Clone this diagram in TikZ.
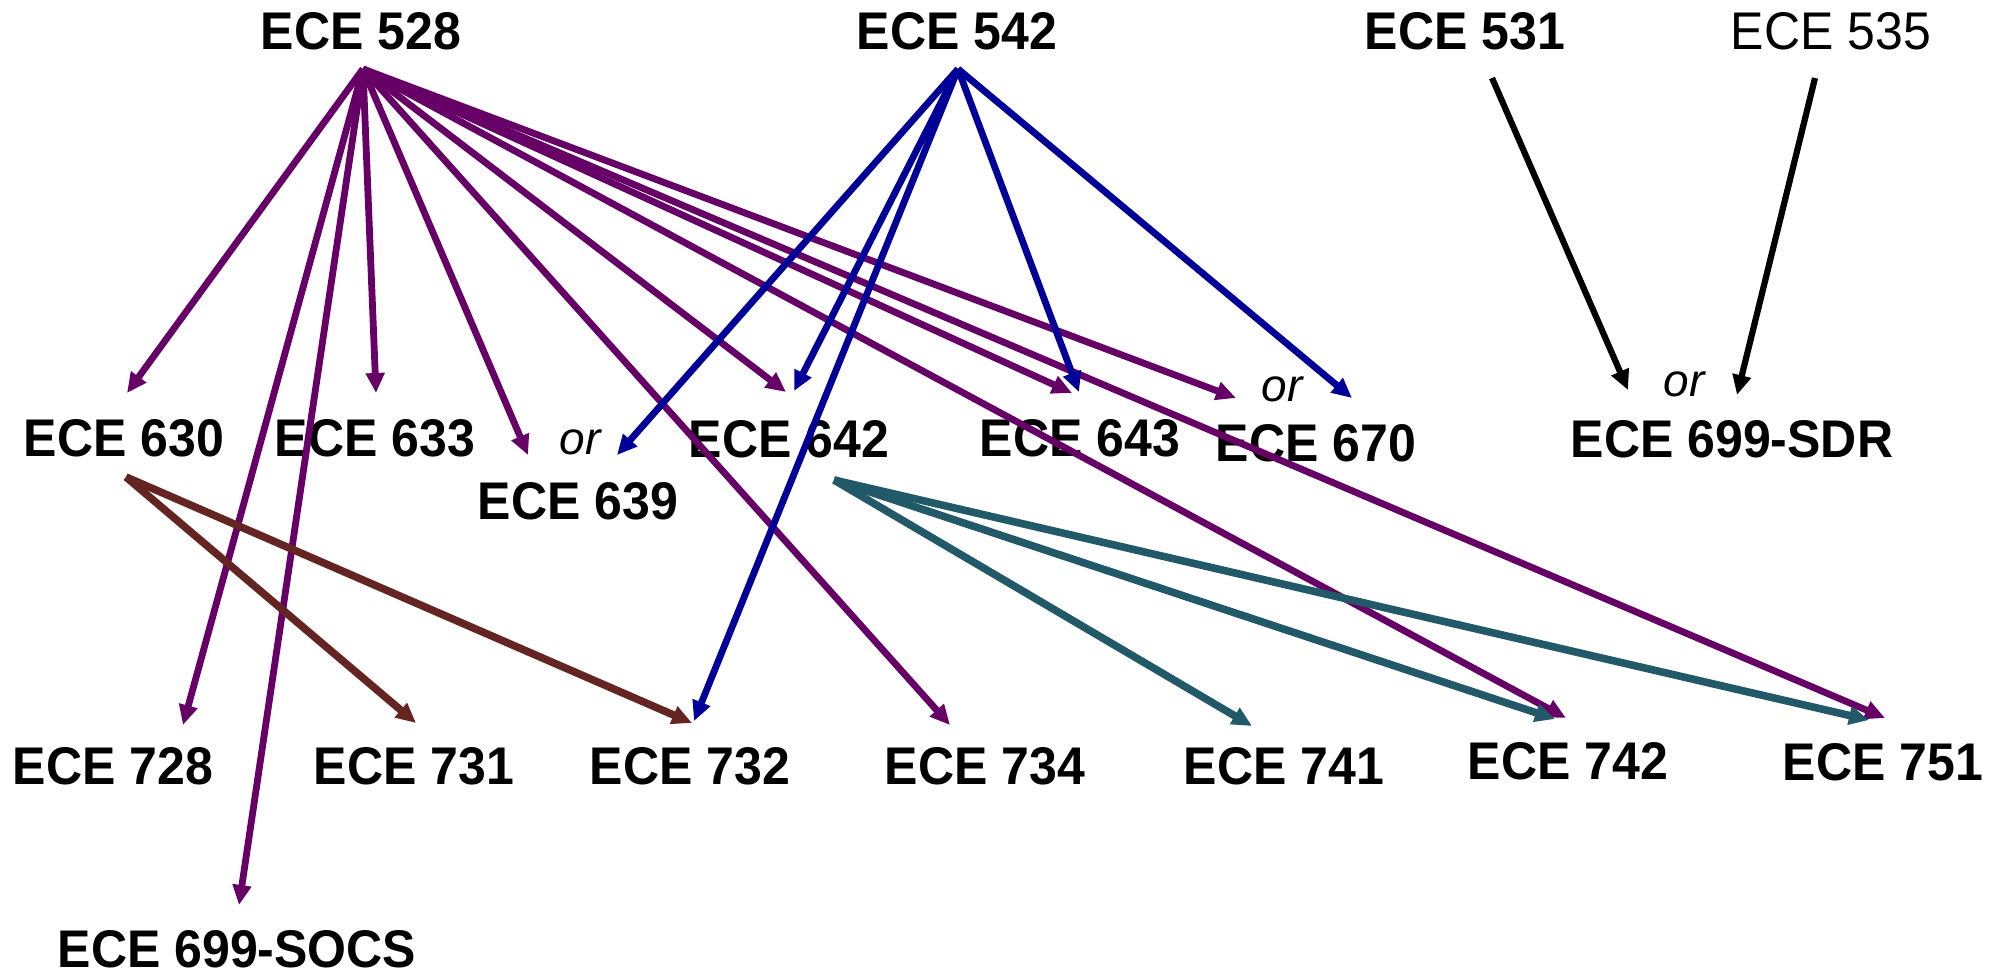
\documentclass[tikz,border=0pt]{standalone}
\usepackage{fontspec}
\setmainfont{Liberation Sans}
\usetikzlibrary{arrows.meta}
\definecolor{cpurple}{RGB}{102,0,102}
\definecolor{cblue}{RGB}{0,0,153}
\definecolor{cbrown}{RGB}{99,36,34}
\definecolor{cteal}{RGB}{33,89,104}
\tikzset{
  course/.style={inner sep=0pt, yscale=1.06, transform shape, font=\fontsize{50}{60}\selectfont\bfseries},
  plaincourse/.style={inner sep=0pt, yscale=1.06, transform shape, font=\fontsize{50}{60}\selectfont},
  altword/.style={inner sep=0pt, font=\fontsize{46}{55}\selectfont\itshape},
  link/.style={line width=6.8pt, -{Triangle[length=20pt,width=18pt]}},
  p528/.style={link, cpurple},
  p542/.style={link, cblue},
  p630/.style={link, cbrown, line width=7.6pt},
  p642/.style={link, cteal, line width=7.6pt},
  pblack/.style={link, black, line width=6.2pt},
}
\begin{document}
\begin{tikzpicture}[x=1pt, y=-1pt]
\useasboundingbox[fill=white] (0,0) rectangle (2009,975);

% course labels
\node[course] (n528) at (361,31) {ECE 528};
\node[course] (n542) at (957,31) {ECE 542};
\node[course] (n531) at (1465,31) {ECE 531};
\node[plaincourse] (n535) at (1831,31) {ECE 535};

\node[course] (n630) at (124,438) {ECE 630};
\node[course] (n633) at (375,438) {ECE 633};
\node[altword] (or639) at (580,442) {or};
\node[course] (n639) at (578,501) {ECE 639};
\node[course] (n642) at (789,439) {ECE 642};
\node[course] (n643) at (1080,438) {ECE 643};
\node[altword] (or670) at (1282,389) {or};
\node[course] (n670) at (1316,443) {ECE 670};
\node[altword] (orsdr) at (1684,384) {or};
\node[course] (nsdr) at (1732,439) {ECE 699-SDR};

\node[course] (n728) at (113,766) {ECE 728};
\node[course] (n731) at (414,766) {ECE 731};
\node[course] (n732) at (690,766) {ECE 732};
\node[course] (n734) at (985,766) {ECE 734};
\node[course] (n741) at (1284,766) {ECE 741};
\node[course] (n742) at (1568,761) {ECE 742};
\node[course] (n751) at (1883,762) {ECE 751};
\node[course] (nsocs) at (237,949) {ECE 699-SOCS};

% arrow start points below the sources
\coordinate (s528) at (363,69);
\coordinate (s542) at (958,69);
\coordinate (s531) at (1492,78);
\coordinate (s535) at (1815,78);
\coordinate (s630) at (126,477);
\coordinate (s642) at (834,480);

% arrow end points above the targets
\coordinate (t630) at (127,393);
\coordinate (t633) at (376,393);
\coordinate (t639a) at (528,455);
\coordinate (t639b) at (617,455);
\coordinate (t642a) at (786,392);
\coordinate (t642b) at (794,391);
\coordinate (t643a) at (1072,393);
\coordinate (t643b) at (1079,392);
\coordinate (t670a) at (1236,398);
\coordinate (t670b) at (1352,398);
\coordinate (tsdra) at (1628,390);
\coordinate (tsdrb) at (1737,395);
\coordinate (t728) at (183,725);
\coordinate (t731) at (416,723);
\coordinate (t732a) at (692,723);
\coordinate (t732b) at (694,721);
\coordinate (t734) at (950,725);
\coordinate (t741) at (1252,726);
\coordinate (t742a) at (1566,718);
\coordinate (t742b) at (1555,719);
\coordinate (t751a) at (1885,718);
\coordinate (t751b) at (1869,720);
\coordinate (tsocs) at (239,905);

% from ECE 528
\draw[p528] (s528) -- (t630);
\draw[p528] (s528) -- (t728);
\draw[p528] (s528) -- (tsocs);
\draw[p528] (s528) -- (t633);
\draw[p528] (s528) -- (t639a);
\draw[p528] (s528) -- (t734);
\draw[p528] (s528) -- (t642a);
\draw[p528] (s528) -- (t643a);
\draw[p528] (s528) -- (t742a);
\draw[p528] (s528) -- (t670a);
\draw[p528] (s528) -- (t751a);

% from ECE 542
\draw[p542] (s542) -- (t639b);
\draw[p542] (s542) -- (t642b);
\draw[p542] (s542) -- (t732b);
\draw[p542] (s542) -- (t643b);
\draw[p542] (s542) -- (t670b);

% from ECE 630
\draw[p630] (s630) -- (t731);
\draw[p630] (s630) -- (t732a);

% from ECE 642
\draw[p642] (s642) -- (t741);
\draw[p642] (s642) -- (t742b);
\draw[p642] (s642) -- (t751b);

% ECE 531 or ECE 535
\draw[pblack] (s531) -- (tsdra);
\draw[pblack] (s535) -- (tsdrb);
\end{tikzpicture}
\end{document}
